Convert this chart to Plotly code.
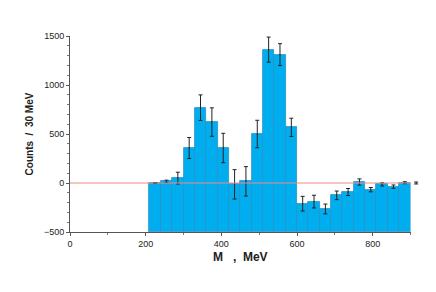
import plotly.graph_objects as go

bin_centers = [225, 255, 285, 315, 345, 375, 405, 435, 465, 495, 525, 555, 585,
               615, 645, 675, 705, 735, 765, 795, 825, 855, 885]
counts = [0, 17, 50, 357, 769, 622, 357, -14, 17, 500, 1361, 1310, 568,
          -211, -190, -265, -126, -92, 10, -68, -14, -37, 3]
errors = [5, 12, 60, 107, 130, 145, 150, 150, 150, 140, 128, 112, 93,
          75, 65, 50, 44, 36, 32, 22, 17, 17, 10]
extra_x = [915]
extra_y = [0]
extra_err = [10]
y_floor = -500
x_max = 900

frac = 340.5 / 360.0

fig = go.Figure()
fig.add_trace(go.Bar(
    x=bin_centers, y=[c - y_floor for c in counts], base=y_floor, width=30,
    marker=dict(color="#00AEEF", line=dict(color="#2b8fc4", width=0.8)),
    showlegend=False, hoverinfo="skip",
))
fig.add_shape(type="line", xref="x", yref="y", x0=0, x1=x_max, y0=0, y1=0,
              line=dict(color="#f08a8a", width=1), layer="above")
fig.add_trace(go.Scatter(
    x=bin_centers, y=counts, mode="markers",
    marker=dict(size=1, color="#222222"),
    error_y=dict(type="data", array=errors, color="#222222", thickness=1, width=2),
    showlegend=False,
))
fig.add_trace(go.Scatter(
    x=extra_x, y=extra_y, mode="markers", xaxis="x2", yaxis="y",
    marker=dict(size=1, color="#222222"),
    error_y=dict(type="data", array=extra_err, color="#222222", thickness=1, width=2),
    showlegend=False,
))

ff = "Liberation Sans, Arial, sans-serif"
fig.update_layout(
    width=428, height=284,
    margin=dict(l=62, r=6, t=28, b=60),
    paper_bgcolor="white", plot_bgcolor="rgba(0,0,0,0)",
    bargap=0,
    font=dict(family=ff, size=9, color="#222"),
    xaxis=dict(range=[0, x_max], domain=[0, frac], tickvals=[0, 200, 400, 600, 800], automargin=False,
               showline=True, linecolor="#555", linewidth=1,
               ticks="outside", ticklen=3, tickcolor="#555",
               minor=dict(dtick=100, ticks="outside", ticklen=2, tickcolor="#777"),
               showgrid=False, zeroline=False,
               title=dict(text="<b>M   ,  MeV</b>", standoff=4,
                          font=dict(size=12, family=ff, color="#222"))),
    xaxis2=dict(range=[0, x_max / frac], domain=[0, 1], anchor="y", visible=False,
                showgrid=False, zeroline=False),
    yaxis=dict(range=[-500, 1500], tickvals=[-500, 0, 500, 1000, 1500], automargin=False,
               showline=True, linecolor="#555", linewidth=1,
               ticks="outside", ticklen=3, tickcolor="#555",
               minor=dict(dtick=100, ticks="outside", ticklen=2, tickcolor="#777"),
               showgrid=False, zeroline=False,
               title=dict(text="<b>Counts  /  30 MeV</b>", standoff=8,
                          font=dict(size=10, family=ff, color="#222"))),
    annotations=[dict(x=780, y=1640, xref="x", yref="y", text="<b>E  > 300 MeV,  N  = 2</b>",
                      showarrow=False, font=dict(size=10, color="#222"))],
)
fig.write_html("out.html")
